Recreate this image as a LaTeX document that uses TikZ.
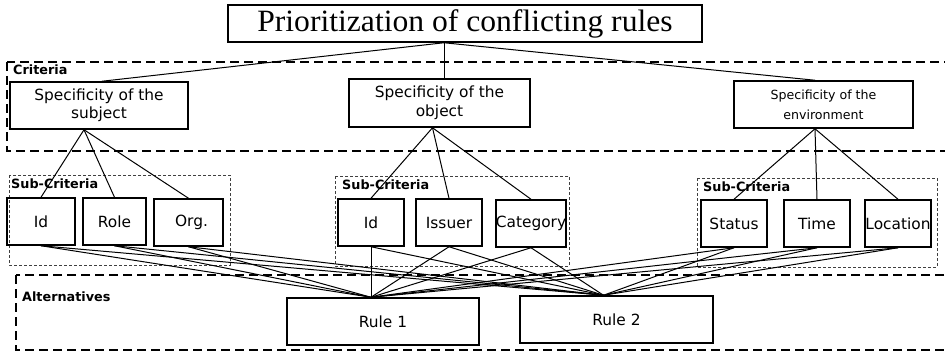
\documentclass[tikz,border=0pt]{standalone}
\usepackage{fontspec}
\setmainfont{DejaVu Sans}
\newfontfamily\titlefont[FakeStretch=1.02]{Liberation Serif}
\begin{document}
\begin{tikzpicture}[x=1pt,y=-1pt,
  box/.style={draw, line width=1.5pt, inner sep=0pt, align=center, font=\fontsize{15.4}{18.5}\selectfont},
  subbox/.style={box, minimum width=66pt, minimum height=47pt},
  link/.style={line width=1pt},
  group/.style={dash pattern=on 9pt off 5pt, line width=1.2pt},
  subgroup/.style={dash pattern=on 3pt off 2pt, line width=0.9pt, black!75},
  grouplabel/.style={anchor=west, inner sep=0pt, font=\fontsize{12.8}{14}\selectfont\bfseries}]
\clip (0,0) rectangle (945,353);
% groups
\draw[group] (7,62) rectangle (965,151);
\draw[group] (16,275) rectangle (965,350);
\draw[subgroup] (9,175) rectangle (230,265);
\draw[subgroup] (335,176) rectangle (569,266);
\draw[subgroup] (697,178) rectangle (937,267);
\node[grouplabel] (lcrit) at (13,70) {Criteria};
\node[grouplabel] (lsub1) at (11,184) {Sub-Criteria};
\node[grouplabel] (lsub2) at (342,185) {Sub-Criteria};
\node[grouplabel] (lsub3) at (703,187) {Sub-Criteria};
\node[grouplabel] (lalt) at (22,297) {Alternatives};
% nodes
\node[box, minimum width=474pt, minimum height=37pt, font=\titlefont\fontsize{31}{31}\selectfont] (title) at (465,23.5) {Prioritization of conflicting rules};
\node[box, minimum width=178pt, minimum height=47pt] (subj) at (99,105.5) {Specificity of the\\subject};
\node[box, minimum width=181pt, minimum height=48pt] (obj) at (439.5,103) {Specificity of the\\object};
\node[box, minimum width=179pt, minimum height=47pt, font=\fontsize{12.6}{20}\selectfont] (env) at (823.5,104.5) {Specificity of the\\environment};
\node[subbox, minimum width=68pt] (sid) at (41,221.5) {Id};
\node[subbox, minimum width=63pt] (srole) at (114.5,221.5) {Role};
\node[subbox, minimum width=69pt] (sorg) at (188.5,222.5) {\hspace{6pt}Org.};
\node[subbox] (oid) at (371,222.5) {Id};
\node[subbox] (oiss) at (449,222.5) {Issuer};
\node[subbox, minimum width=70pt] (ocat) at (531,223.5) {Category};
\node[subbox] (estat) at (734,223.5) {Status};
\node[subbox] (etime) at (817,223.5) {Time};
\node[subbox] (eloc) at (898,223.5) {Location};
\node[box, minimum width=192pt, minimum height=47pt] (r1) at (383,321.5) {Rule 1};
\node[box, minimum width=193pt, minimum height=47pt] (r2) at (616.5,319.5) {Rule 2};
% connectors
\draw[link] ([xshift=-21pt]title.south) -- ([xshift=3pt]subj.north);
\draw[link] ([xshift=-21pt]title.south) -- ([xshift=4.5pt]obj.north);
\draw[link] ([xshift=-21pt]title.south) -- ([xshift=-8.5pt]env.north);
\foreach \n in {sid,srole,sorg} \draw[link] ([xshift=-15pt]subj.south) -- (\n.north);
\foreach \n in {oid,oiss,ocat} \draw[link] ([xshift=-7pt]obj.south) -- (\n.north);
\foreach \n in {estat,etime,eloc} \draw[link] ([xshift=-8.5pt]env.south) -- (\n.north);
\foreach \n in {sid,srole,sorg,oid,oiss,ocat,estat,etime,eloc} {
  \draw[link] (\n.south) -- ([xshift=-12pt]r1.north);
  \draw[link] (\n.south) -- ([xshift=-13pt]r2.north);
}
\end{tikzpicture}
\end{document}
